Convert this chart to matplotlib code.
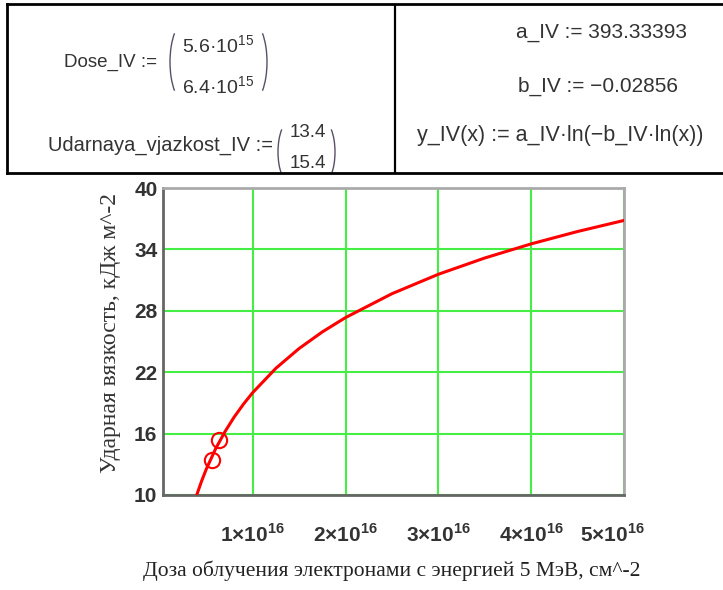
import matplotlib
matplotlib.use("Agg")
import matplotlib.pyplot as plt
from matplotlib.patches import Arc
from matplotlib.transforms import ScaledTranslation

# data
dose_pts = [5.6e15, 6.4e15]
udar_pts = [13.4, 15.4]

# fitted curve y_IV(x)
curve_x = [0.397e16, 0.45e16, 0.5e16, 0.6e16, 0.7e16, 0.8e16, 0.9e16, 1.0e16,
           1.25e16, 1.5e16, 1.75e16, 2.0e16, 2.5e16, 3.0e16, 3.5e16, 4.0e16,
           4.5e16, 5.0e16]
curve_y = [10.02, 11.39, 12.54, 14.52, 16.18, 17.62, 18.88, 20.01,
           22.39, 24.32, 25.94, 27.34, 29.67, 31.57, 33.16, 34.54,
           35.75, 36.83]

xticks = [1e16, 2e16, 3e16, 4e16, 5e16]
xtick_labels = ["1×10$^{\\mathbf{16}}$", "2×10$^{\\mathbf{16}}$", "3×10$^{\\mathbf{16}}$",
                "4×10$^{\\mathbf{16}}$", "5×10$^{\\mathbf{16}}$"]
yticks = [10, 16, 22, 28, 34, 40]

plt.rcParams['mathtext.fontset'] = 'custom'
plt.rcParams['mathtext.rm'] = 'Liberation Sans'
plt.rcParams['mathtext.bf'] = 'Liberation Sans:bold'

W, H = 723, 590
fig = plt.figure(figsize=(W/100, H/100), dpi=100)

# ---- top table with the Mathcad definitions ----
tb = fig.add_axes([7/W, 1-173/H, (W-7)/W, 169/H])
tb.set_xlim(7, W)
tb.set_ylim(173, 4)
tb.set_xticks([])
tb.set_yticks([])
for s in ['left', 'top', 'bottom']:
    tb.spines[s].set_linewidth(2)
    tb.spines[s].set_color('black')
tb.spines['right'].set_visible(False)
tb.axvline(394.5, color='black', lw=1.6)

tfont = dict(family='Liberation Sans', color='#333333', va='center', clip_on=True)
tb.text(157, 62, "Dose_IV :=", ha='right', fontsize=13.5, **tfont)
tb.text(182, 46, "5.6·10$^{15}$", ha='left', fontsize=14, **tfont)
tb.text(182, 87, "6.4·10$^{15}$", ha='left', fontsize=14, **tfont)
tb.text(273, 145, "Udarnaya_vjazkost_IV :=", ha='right', fontsize=14.5, **tfont)
tb.text(290, 133, "13.4", ha='left', fontsize=13.5, **tfont)
tb.text(290, 164, "15.4", ha='left', fontsize=13.5, **tfont)

tb.text(601, 33, "a_IV := 393.33393", ha='center', fontsize=15, **tfont)
tb.text(598, 86, "b_IV := −0.02856", ha='center', fontsize=15, **tfont)
tb.text(560, 136, "y_IV(x) := a_IV·ln(−b_IV·ln(x))", ha='center', fontsize=15.5, **tfont)

pc = '#5a4f66'
for cx, cy, w, h, t1, t2 in [(185, 62, 30, 80, 110, 250), (252, 62, 30, 80, -70, 70),
                             (290, 152, 24, 62, 110, 250), (323, 152, 24, 62, -70, 70)]:
    a = Arc((cx, cy), w, h, theta1=t1, theta2=t2, color=pc, lw=1.0)
    tb.add_patch(a)

# ---- plot ----
ax = fig.add_axes([163/W, 1-495/H, (624-163)/W, (495-188)/H])
ax.plot(curve_x, curve_y, color='red', lw=2.2, zorder=3)
ax.plot(dose_pts, udar_pts, 'o', ms=11, mfc='none', mec='red', mew=1.5, zorder=4)

ax.set_xlim(3.3e14, 5e16)
ax.set_ylim(10, 40)
ax.set_xticks(xticks)
ax.set_xticklabels(xtick_labels)
ax.set_yticks(yticks)
ax.grid(True, color='#44ee44', lw=1.5)
ax.set_axisbelow(True)
ax.tick_params(length=0)
ax.tick_params(axis='x', pad=20)
ax.tick_params(axis='y', pad=4)
for lab in ax.get_xticklabels():
    lab.set_family('Liberation Sans')
    lab.set_fontweight('bold')
    lab.set_fontsize(15)
    lab.set_color('#333333')
for lab in ax.get_yticklabels():
    lab.set_family('Liberation Sans')
    lab.set_fontweight('bold')
    lab.set_fontsize(15)
    lab.set_color('#333333')
last = ax.get_xticklabels()[-1]
last.set_transform(last.get_transform() + ScaledTranslation(-0.12, 0, fig.dpi_scale_trans))

ax.spines['left'].set_color('#666666')
ax.spines['bottom'].set_color('#666666')
ax.spines['top'].set_color('#aaaaaa')
ax.spines['right'].set_color('#aaaaaa')
for s in ax.spines.values():
    s.set_linewidth(2)

fig.text(392/W, 1-571/H, "Доза облучения электронами с энергией 5 МэВ, см^-2",
         family='Liberation Serif', fontsize=15.5, color='#222222', ha='center', va='center')
fig.text(111/W, 1-333/H, "Ударная вязкость, кДж м^-2", rotation=90,
         family='Liberation Serif', fontsize=17, color='#333333', ha='center', va='center')

fig.savefig("out.png", dpi=100)
